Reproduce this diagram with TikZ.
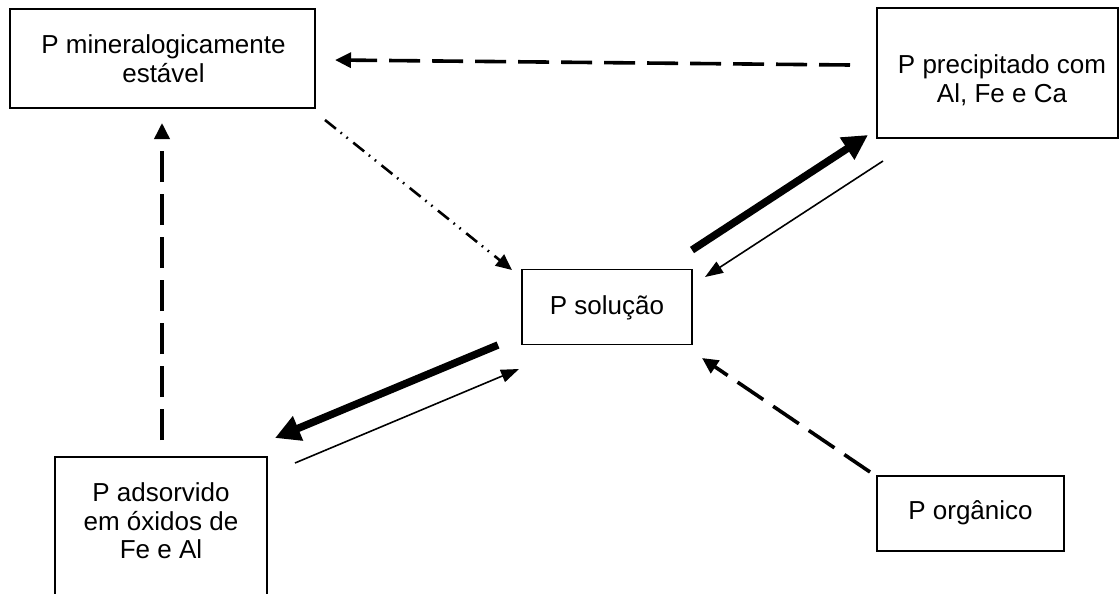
\documentclass[tikz,border=0pt]{standalone}
\usepackage{fontspec}
\setmainfont{Liberation Sans}
\usetikzlibrary{arrows.meta}
\begin{document}
\begin{tikzpicture}[x=1pt,y=-1pt,
  box/.style={draw, line width=1.6pt, inner sep=0pt},
  label text/.style={inner sep=0pt, align=center, font=\fontsize{26}{28.7}\selectfont},
  dashflow/.style={line width=3.6pt, dash pattern=on 31pt off 12pt,
    -{Triangle[length=16pt,width=15pt]}},
  dotflow/.style={line width=2.6pt, dash pattern=on 14pt off 6pt on 1.6pt off 6pt on 1.6pt off 7pt,
    -{Triangle[length=16pt,width=14pt]}},
  strongflow/.style={line width=7.5pt, -{Triangle[length=25pt,width=25pt]}},
  weakflow/.style={line width=1.6pt, -{Triangle[length=18pt,width=13pt]}}
]
\useasboundingbox (0,0) rectangle (1120,594);
\clip (0,0) rectangle (1120,594);

% pools of phosphorus
\node[box, minimum width=305pt, minimum height=99pt] (estavel) at (162.5,58.5) {};
\node[label text] (estavel-t) at (163.5,58.5) {P mineralogicamente\\estável};

\node[box, minimum width=241pt, minimum height=130pt] (precip) at (997.5,73) {};
\node[label text] (precip-t) at (1002,80.5) {P precipitado com\\Al, Fe e Ca};

\node[box, minimum width=170pt, minimum height=75pt] (solucao) at (607,307) {};
\node[label text] (solucao-t) at (607,307.5) {P solução};

\node[box, minimum width=212pt, minimum height=150pt] (adsorv) at (161,532) {};
\node[label text] (adsorv-t) at (161,521) {P adsorvido\\em óxidos de\\Fe e Al};

\node[box, minimum width=187pt, minimum height=75pt] (organico) at (970.5,513.5) {};
\node[label text] (organico-t) at (970.5,513) {P orgânico};

% connector end points next to the boxes
\coordinate (e1) at (850,65);   \coordinate (e2) at (335,60);
\coordinate (e3) at (162,440);  \coordinate (e4) at (162,123);
\coordinate (e5) at (325,120);  \coordinate (e6) at (512,270);
\coordinate (e7) at (692,250);  \coordinate (e8) at (868,135);
\coordinate (e9) at (883,161);  \coordinate (e10) at (705,277);
\coordinate (e11) at (498,345); \coordinate (e12) at (275,438);
\coordinate (e13) at (295,463); \coordinate (e14) at (519,369);
\coordinate (e15) at (870,472); \coordinate (e16) at (702,358);

% transfers between pools
\draw[dashflow] (e1) -- (e2);
\draw[dashflow] (e3) -- (e4);
\draw[dotflow] (e5) -- (e6);
\draw[strongflow] (e7) -- (e8);
\draw[weakflow] (e9) -- (e10);
\draw[strongflow] (e11) -- (e12);
\draw[weakflow] (e13) -- (e14);
\draw[dashflow] (e15) -- (e16);
\end{tikzpicture}
\end{document}
